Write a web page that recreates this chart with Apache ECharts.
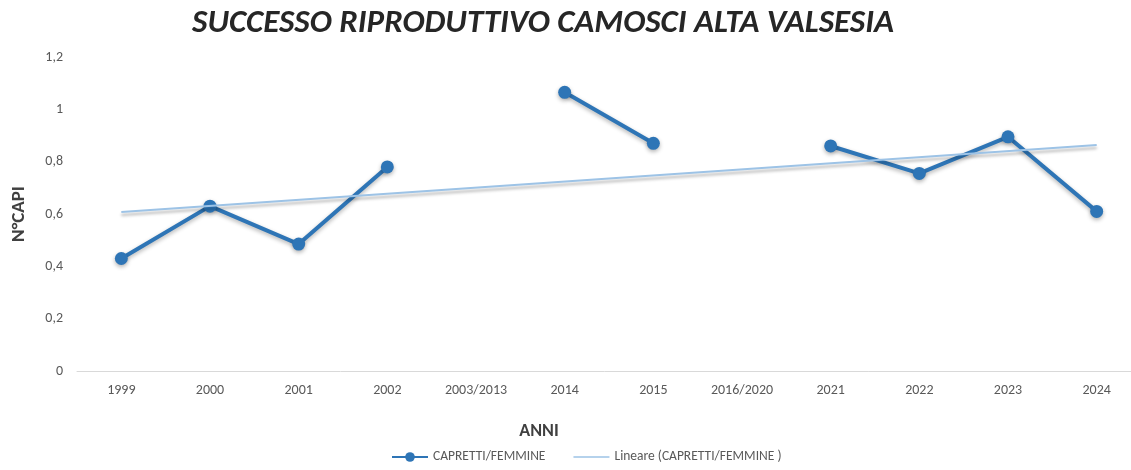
<!DOCTYPE html>
<html>
<head>
<meta charset="utf-8">
<script src="https://cdn.jsdelivr.net/npm/echarts@6/dist/echarts.min.js"></script>
<style>
  html, body { margin: 0; padding: 0; background: #fff; }
  #chart { width: 1131px; height: 470px; }
</style>
</head>
<body>
<div id="chart"></div>
<script>
const years = ['1999', '2000', '2001', '2002', '2003/2013', '2014', '2015', '2016/2020', '2021', '2022', '2023', '2024'];
const ratio = [0.43, 0.63, 0.485, 0.78, null, 1.065, 0.87, null, 0.86, 0.755, 0.895, 0.61];
// linear trend at both ends
const trend = [0.608, null, null, null, null, null, null, null, null, null, null, 0.864];
const yTicks = [0, 0.2, 0.4, 0.6, 0.8, 1, 1.2];

const font = 'Calibri, Lato, "Open Sans", sans-serif';
const chart = echarts.init(document.getElementById('chart'));

chart.setOption({
  animation: false,
  title: {
    text: 'SUCCESSO RIPRODUTTIVO CAMOSCI ALTA VALSESIA',
    left: 538,
    textAlign: 'center',
    top: 2,
    textStyle: {
      fontFamily: font,
      fontSize: 33,
      fontWeight: 'bold',
      fontStyle: 'italic',
      color: '#262626'
    }
  },
  grid: { left: 77, top: 57, bottom: 99, width: 1064, outerBoundsMode: 'none', containLabel: false },
  legend: {
    bottom: 1,
    left: 386,
    itemGap: 28,
    itemWidth: 36,
    itemHeight: 12,
    textStyle: { fontFamily: font, fontSize: 13.5, color: '#595959' },
    data: [
      { name: 'CAPRETTI/FEMMINE' },
      { name: 'Lineare (CAPRETTI/FEMMINE )', icon: 'path://M0,0 L44,0 L44,2 L0,2 Z', itemStyle: { color: '#9DC3E6' } }
    ]
  },
  xAxis: {
    type: 'category',
    data: years,
    name: 'ANNI',
    nameLocation: 'middle',
    nameGap: 51,
    nameTextStyle: { fontFamily: font, fontSize: 18, fontWeight: 'bold', color: '#404040', padding: [0, 140, 0, 0] },
    axisLine: { lineStyle: { color: '#d9d9d9', width: 1 } },
    axisTick: { show: false },
    axisLabel: { fontFamily: font, fontSize: 14, color: '#595959', margin: 12 }
  },
  yAxis: {
    type: 'value',
    min: 0,
    max: yTicks[yTicks.length - 1],
    interval: 0.2,
    name: 'N°CAPI',
    nameLocation: 'middle',
    nameGap: 48,
    nameTextStyle: { fontFamily: font, fontSize: 19, fontWeight: 'bold', color: '#404040' },
    splitLine: { show: false },
    axisLine: { show: false },
    axisTick: { show: false },
    axisLabel: {
      fontFamily: font,
      fontSize: 14,
      color: '#595959',
      margin: 14,
      formatter: v => String(Math.round(v * 10) / 10).replace('.', ',')
    }
  },
  series: [
    {
      name: 'CAPRETTI/FEMMINE',
      type: 'line',
      data: ratio,
      connectNulls: false,
      symbol: 'circle',
      symbolSize: 13,
      itemStyle: { color: '#2E75B6', shadowColor: 'rgba(0,0,0,0.3)', shadowBlur: 4, shadowOffsetY: 2 },
      lineStyle: { color: '#2E75B6', width: 4, shadowColor: 'rgba(0,0,0,0.3)', shadowBlur: 4, shadowOffsetY: 2 },
      z: 2
    },
    {
      name: 'Lineare (CAPRETTI/FEMMINE )',
      type: 'line',
      data: trend,
      connectNulls: true,
      showSymbol: false,
      symbol: 'none',
      itemStyle: { color: '#9DC3E6' },
      lineStyle: { color: '#9DC3E6', width: 2, shadowColor: 'rgba(0,0,0,0.3)', shadowBlur: 3, shadowOffsetY: 3 },
      z: 3
    }
  ]
});
</script>
</body>
</html>
